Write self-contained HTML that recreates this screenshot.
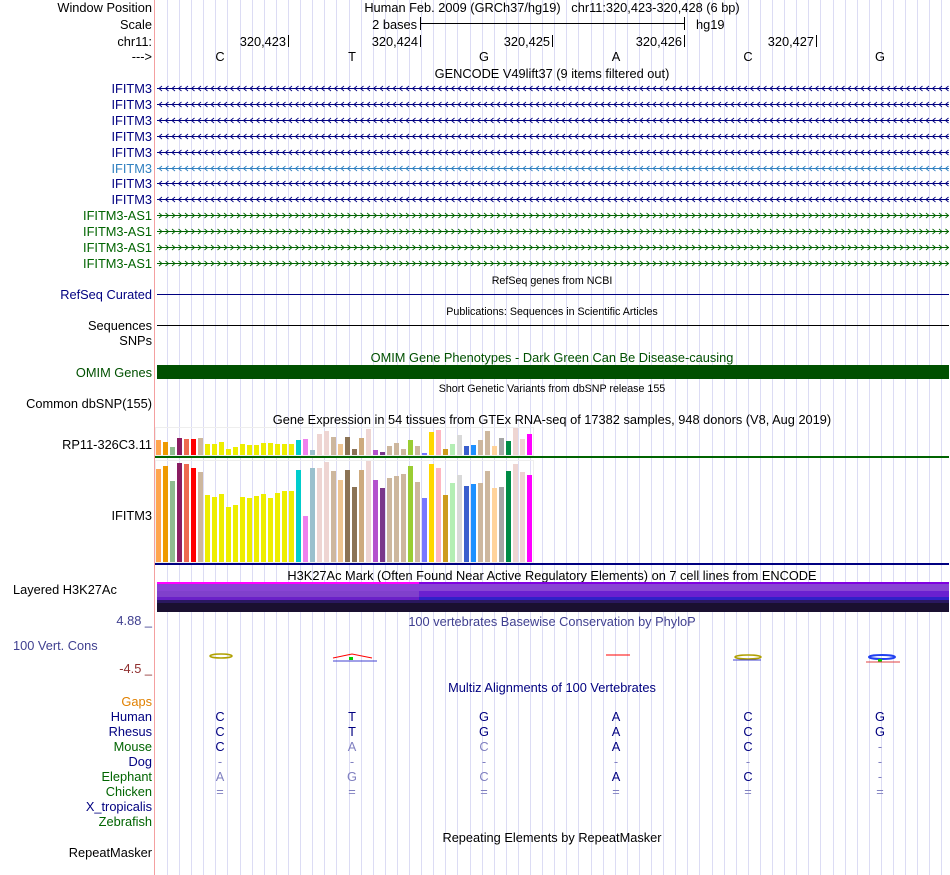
<!DOCTYPE html>
<html><head><meta charset="utf-8"><style>
body{margin:0;background:#fff;width:950px;height:875px;overflow:hidden}
svg{display:block;font-family:"Liberation Sans",sans-serif;font-size:12.8px}
</style></head><body>
<svg id="s" width="950" height="875">
<g id="grid"></g>
<line x1="154.5" y1="0" x2="154.5" y2="875" stroke="#f4a0a0"/>
<g id="labels" text-anchor="end">
<text x="152" y="12">Window Position</text>
<text x="152" y="29">Scale</text>
<text x="152" y="46">chr11:</text>
<text x="152" y="61">---&gt;</text>
<text x="152" y="299" fill="#000080">RefSeq Curated</text>
<text x="152" y="330">Sequences</text>
<text x="152" y="345">SNPs</text>
<text x="152" y="377" fill="#005000">OMIM Genes</text>
<text x="152" y="408">Common dbSNP(155)</text>
<text x="152" y="449">RP11-326C3.11</text>
<text x="152" y="520">IFITM3</text>
<text x="13" y="594" text-anchor="start">Layered H3K27Ac</text>
<text x="152" y="625" fill="#404090">4.88 _</text>
<text x="13" y="650" fill="#404090" text-anchor="start">100 Vert. Cons</text>
<text x="152" y="673" fill="#903030">-4.5 _</text>
<text x="152" y="706" fill="#e08000">Gaps</text>
<text x="152" y="721" fill="#000080">Human</text>
<text x="152" y="736" fill="#000080">Rhesus</text>
<text x="152" y="751" fill="#006400">Mouse</text>
<text x="152" y="766" fill="#000080">Dog</text>
<text x="152" y="781" fill="#006400">Elephant</text>
<text x="152" y="796" fill="#006400">Chicken</text>
<text x="152" y="811" fill="#000080">X_tropicalis</text>
<text x="152" y="826" fill="#006400">Zebrafish</text>
<text x="152" y="857">RepeatMasker</text>
</g>
<g text-anchor="middle">
<text x="552" y="12">Human Feb. 2009 (GRCh37/hg19)&#160;&#160;&#160;chr11:320,423-320,428 (6 bp)</text>
<text x="552" y="78">GENCODE V49lift37 (9 items filtered out)</text>
<text x="552" y="284" font-size="10.7">RefSeq genes from NCBI</text>
<text x="552" y="315" font-size="10.7">Publications: Sequences in Scientific Articles</text>
<text x="552" y="362" fill="#005000">OMIM Gene Phenotypes - Dark Green Can Be Disease-causing</text>
<text x="552" y="392" font-size="10.7">Short Genetic Variants from dbSNP release 155</text>
<text x="552" y="424">Gene Expression in 54 tissues from GTEx RNA-seq of 17382 samples, 948 donors (V8, Aug 2019)</text>
<text x="552" y="580">H3K27Ac Mark (Often Found Near Active Regulatory Elements) on 7 cell lines from ENCODE</text>
<text x="552" y="626" fill="#404090">100 vertebrates Basewise Conservation by PhyloP</text>
<text x="552" y="692" fill="#000080">Multiz Alignments of 100 Vertebrates</text>
<text x="552" y="842">Repeating Elements by RepeatMasker</text>
</g>
<g>
<text x="417" y="29" text-anchor="end">2 bases</text>
<line x1="420" y1="23.5" x2="684" y2="23.5" stroke="#000"/>
<line x1="420.5" y1="17" x2="420.5" y2="30" stroke="#000"/>
<line x1="684.5" y1="17" x2="684.5" y2="30" stroke="#000"/>
<text x="696" y="29">hg19</text>
</g>
<g id="ruler"></g>
<g id="genes"></g>
<line x1="157" y1="294.5" x2="949" y2="294.5" stroke="#000080"/>
<line x1="157" y1="325.5" x2="949" y2="325.5" stroke="#000"/>
<rect x="157" y="365" width="792" height="14" fill="#005000"/>
<g id="gtex"></g>
<g>
<rect x="157" y="582" width="792" height="30" fill="#1a1030"/>
<rect x="157" y="582" width="262" height="2" fill="#ff00ff"/>
<rect x="419" y="582" width="530" height="2" fill="#8000e0"/>
<rect x="157" y="584" width="792" height="7" fill="#8844d4"/>
<rect x="157" y="591" width="262" height="6" fill="#8040cc"/>
<rect x="419" y="591" width="530" height="6" fill="#6a20d0"/>
<rect x="157" y="597" width="262" height="3" fill="#6a20c8"/>
<rect x="419" y="597" width="530" height="3" fill="#3020c8"/>
<rect x="157" y="600" width="792" height="3" fill="#2a1860"/>
</g>
<g>
<ellipse cx="221" cy="656" rx="11" ry="2" fill="none" stroke="#b0a000" stroke-width="1.5"/>
<path d="M333 658 L352 654 L372 658" stroke="red" fill="none"/><rect x="349" y="657" width="4" height="3" fill="#0c0"/><line x1="333" y1="661" x2="377" y2="661" stroke="#4040d0"/>
<line x1="606" y1="655" x2="630" y2="655" stroke="red"/>
<ellipse cx="748" cy="657" rx="13" ry="2" fill="none" stroke="#b0a000" stroke-width="1.5"/><line x1="733" y1="660" x2="761" y2="660" stroke="#4040d0"/>
<ellipse cx="882" cy="657" rx="13" ry="2" fill="none" stroke="#2040f0" stroke-width="2"/><rect x="878" y="659" width="4" height="3" fill="#0c0"/><line x1="866" y1="662" x2="900" y2="662" stroke="#e04040"/>
</g>
<g id="aln" text-anchor="middle"></g>
</svg>
<script>
const NS="http://www.w3.org/2000/svg";
function mk(t,a,p){const e=document.createElementNS(NS,t);for(const k in a)e.setAttribute(k,a[k]);p.appendChild(e);return e;}
const grid=document.getElementById('grid');
for(let x=167;x<950;x+=12.1){const l=mk('line',{x1:Math.round(x)+.5,y1:0,x2:Math.round(x)+.5,y2:875,stroke:'#dcdcf4'},grid);

}
const positions=["320,423","320,424","320,425","320,426","320,427"];
const bases=["C","T","G","A","C","G"];
const ruler=document.getElementById('ruler');
positions.forEach((p,i)=>{const x=288+i*132;
const t=mk('text',{x:x-2,y:46,'text-anchor':'end'},ruler);t.textContent=p;


mk('line',{x1:x+.5,y1:35,x2:x+.5,y2:47,stroke:'#000'},ruler);});
bases.forEach((b,i)=>{const t=mk('text',{x:220+i*132,y:61,'text-anchor':'middle'},ruler);t.textContent=b;

});
const geneNames=["IFITM3","IFITM3","IFITM3","IFITM3","IFITM3","IFITM3","IFITM3","IFITM3","IFITM3-AS1","IFITM3-AS1","IFITM3-AS1","IFITM3-AS1"];
const genes=document.getElementById('genes');
geneNames.forEach((g,i)=>{const y=88+i*15.9;const yy=Math.round(y)+.5;
const col=g.includes('AS1')?'#006400':(i==5?'#3080c0':'#000080');
const t=mk('text',{x:152,y:Math.round(y)+5,'text-anchor':'end',fill:col},genes);t.textContent=g;


mk('line',{x1:157,y1:yy,x2:949,y2:yy,stroke:col},genes);
let d='';for(let x=159;x<946;x+=6.5){d+=g.includes('AS1')?`M${x} ${yy-2.5}L${x+3} ${yy}L${x} ${yy+2.5}`:`M${x+3} ${yy-2.5}L${x} ${yy}L${x+3} ${yy+2.5}`;}
mk('path',{d:d,stroke:col,fill:'none','stroke-width':0.9},genes);});
const tissues=54;
const topVals=[45,39,24,51,48,48,51,33,33,39,18,24,33,30,30,36,36,33,33,33,45,48,15,63,72,54,33,54,18,51,78,15,9,27,36,18,45,27,6,69,75,18,33,60,27,30,45,72,27,51,42,81,48,63];
const botVals=[279,288,243,297,294,282,270,201,195,204,165,171,195,192,198,204,192,207,213,213,276,138,282,282,300,273,246,276,225,276,303,246,222,252,258,264,288,240,192,294,282,201,237,261,228,234,237,273,222,225,273,294,270,261];
const colors=["#FFA54F","#EE9A00","#8FBC8F","#8B1C62","#EE6A50","#FF0000","#CDB79E","#EEEE00","#EEEE00","#EEEE00","#EEEE00","#EEEE00","#EEEE00","#EEEE00","#EEEE00","#EEEE00","#EEEE00","#EEEE00","#EEEE00","#EEEE00","#00CDCD","#EE82EE","#9AC0CD","#EED5D2","#EED5D2","#CDB79E","#EEC591","#8B7355","#8B7355","#CDAA7D","#EED5D2","#B452CD","#7A378B","#CDB79E","#CDB79E","#CDB79E","#9ACD32","#CDB79E","#7777FF","#FFD700","#FFB6C1","#CD9B1D","#B4EEB4","#D9D9D9","#3A5FCD","#1E90FF","#CDB79E","#CDB79E","#FFD39B","#A6A6A6","#008B45","#EED5D2","#EED5D2","#FF00FF"];
const gtex=document.getElementById('gtex');
const xPos=i=>156+i*7;
const yTop=v=>455-v/81*27;
const yBot=v=>562-v/303*101;
mk('rect',{x:155.5,y:427.5,width:378,height:28,fill:'none',stroke:'#eee'},gtex);
mk('rect',{x:155.5,y:460.5,width:378,height:102,fill:'none',stroke:'#eee'},gtex);
topVals.forEach((v,i)=>{const r=mk('rect',{x:xPos(i),y:yTop(v),width:5,height:455-yTop(v),fill:colors[i]},gtex);

});
botVals.forEach((v,i)=>{const r=mk('rect',{x:xPos(i),y:yBot(v),width:5,height:562-yBot(v),fill:colors[i]},gtex);

});
mk('rect',{x:155,y:456,width:794,height:2,fill:'#006400'},gtex);
mk('rect',{x:155,y:563,width:794,height:2,fill:'#000080'},gtex);
const aln=[["C","T","G","A","C","G"],["C","T","G","A","C","G"],["C","a","c","A","C","-"],["-","-","-","-","-","-"],["a","g","c","A","C","-"],["=","=","=","=","=","="]];
const light=[[0,0,0,0,0,0],[0,0,0,0,0,0],[0,1,1,0,0,1],[1,1,1,1,1,1],[1,1,1,0,0,1],[1,1,1,1,1,1]];
const ag=document.getElementById('aln');
aln.forEach((row,r)=>row.forEach((c,i)=>{const t=mk('text',{x:220+i*132,y:721+r*15,fill:light[r][i]?'#8080c0':'#000080'},ag);t.textContent=c.toUpperCase();

}));
</script>
</body></html>
